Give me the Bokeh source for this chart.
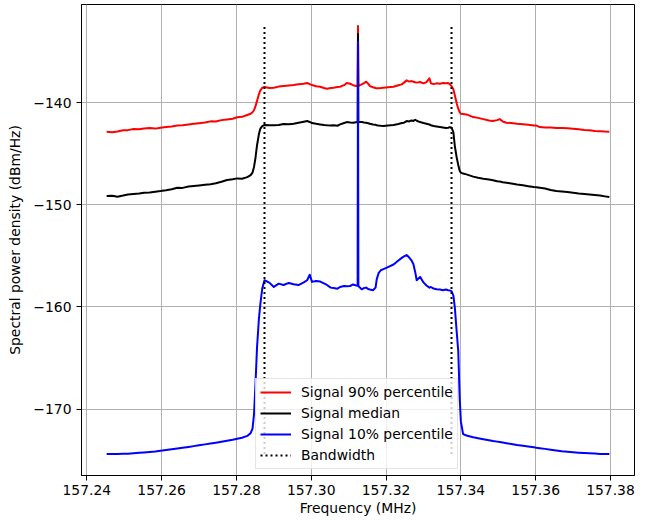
from bokeh.plotting import figure
from bokeh.models import Range1d, FixedTicker
from bokeh.embed import file_html
from bokeh.resources import INLINE

# Frequency bins (MHz)
freq = [
    157.2453, 157.2468, 157.2482, 157.2497, 157.2510, 157.2525, 157.2540, 157.2553, 157.2568, 157.2583,
    157.2597, 157.2612, 157.2627, 157.2642, 157.2656, 157.2672, 157.2686, 157.2700, 157.2716, 157.2731,
    157.2745, 157.2760, 157.2775, 157.2790, 157.2802, 157.2815, 157.2829, 157.2838, 157.2843, 157.2847,
    157.2851, 157.2855, 157.2860, 157.2864, 157.2869, 157.2875, 157.2888, 157.2900, 157.2913, 157.2926,
    157.2940, 157.2953, 157.2966, 157.2980, 157.2989, 157.2996, 157.3002, 157.3013, 157.3024, 157.3034,
    157.3042, 157.3052, 157.3060, 157.3070, 157.3077, 157.3088, 157.3095, 157.3104, 157.3112, 157.3120,
    157.3124, 157.3125, 157.3126, 157.3130, 157.3135, 157.3141, 157.3147, 157.3152, 157.3157, 157.3165,
    157.3172, 157.3175, 157.3180, 157.3186, 157.3193, 157.3205, 157.3220, 157.3233, 157.3242, 157.3248,
    157.3255, 157.3262, 157.3268, 157.3273, 157.3278, 157.3282, 157.3291, 157.3300, 157.3308, 157.3316,
    157.3320, 157.3327, 157.3335, 157.3344, 157.3352, 157.3360, 157.3366, 157.3371, 157.3375, 157.3380,
    157.3384, 157.3389, 157.3393, 157.3397, 157.3400, 157.3406, 157.3415, 157.3425, 157.3433, 157.3446,
    157.3460, 157.3475, 157.3486, 157.3497, 157.3504, 157.3512, 157.3522, 157.3535, 157.3550, 157.3566,
    157.3580, 157.3595, 157.3602, 157.3611, 157.3625, 157.3640, 157.3655, 157.3670, 157.3685, 157.3700,
    157.3715, 157.3730, 157.3744, 157.3758, 157.3772, 157.3785, 157.3797,
]

# Signal 90% percentile (dBm/Hz)
signal_p90 = [
    -142.86, -142.90, -142.84, -142.72, -142.70, -142.58, -142.62, -142.53, -142.50, -142.55,
    -142.46, -142.40, -142.34, -142.25, -142.22, -142.14, -142.07, -142.02, -141.96, -141.84,
    -141.86, -141.72, -141.65, -141.58, -141.44, -141.40, -141.22, -141.10, -140.95, -140.75,
    -140.35, -139.85, -139.20, -138.80, -138.55, -138.48, -138.58, -138.55, -138.44, -138.39,
    -138.33, -138.29, -138.22, -138.16, -138.09, -138.20, -138.29, -138.40, -138.45, -138.58,
    -138.65, -138.58, -138.55, -138.48, -138.45, -138.30, -138.09, -138.16, -138.30, -138.38,
    -138.40, -132.50, -138.40, -138.30, -138.22, -138.10, -137.96, -138.15, -138.39, -138.50,
    -138.58, -138.61, -138.60, -138.58, -138.55, -138.50, -138.45, -138.30, -138.22, -138.05,
    -137.83, -137.95, -137.90, -137.96, -138.02, -138.05, -137.99, -138.12, -138.00, -137.63,
    -138.12, -138.20, -138.12, -138.15, -138.09, -138.12, -138.09, -138.22, -138.40, -138.70,
    -139.30, -140.10, -140.60, -140.95, -141.10, -141.12, -141.16, -141.30, -141.42, -141.50,
    -141.62, -141.75, -141.81, -141.72, -141.62, -141.85, -141.97, -142.00, -142.08, -142.13,
    -142.18, -142.25, -142.25, -142.40, -142.45, -142.44, -142.48, -142.50, -142.52, -142.56,
    -142.62, -142.68, -142.72, -142.78, -142.80, -142.84, -142.86,
]

# Signal median (dBm/Hz)
signal_median = [
    -149.15, -149.12, -149.21, -149.10, -148.99, -148.95, -148.90, -148.82, -148.80, -148.72,
    -148.66, -148.58, -148.48, -148.33, -148.35, -148.22, -148.17, -148.12, -148.05, -148.00,
    -147.90, -147.75, -147.58, -147.50, -147.42, -147.45, -147.30, -147.10, -146.85, -146.30,
    -145.40, -144.20, -143.11, -142.55, -142.30, -142.20, -142.23, -142.22, -142.20, -142.10,
    -142.12, -142.07, -141.98, -141.88, -141.81, -141.90, -142.01, -142.08, -142.14, -142.20,
    -142.23, -142.25, -142.22, -142.27, -142.14, -142.00, -141.91, -141.95, -141.97, -141.93,
    -141.92, -133.30, -141.92, -141.90, -141.91, -141.95, -141.97, -142.02, -142.08, -142.14,
    -142.18, -142.22, -142.25, -142.28, -142.30, -142.25, -142.20, -142.10, -142.00, -141.97,
    -141.81, -141.85, -141.75, -141.80, -141.68, -141.78, -141.91, -142.00, -142.07, -142.15,
    -142.22, -142.30, -142.35, -142.40, -142.45, -142.50, -142.46, -142.40, -142.46, -142.90,
    -144.30, -145.40, -146.10, -146.70, -146.85, -146.95, -147.03, -147.15, -147.25, -147.36,
    -147.45, -147.52, -147.60, -147.70, -147.72, -147.80, -147.85, -147.92, -148.02, -148.10,
    -148.18, -148.26, -148.28, -148.33, -148.42, -148.55, -148.66, -148.70, -148.76, -148.82,
    -148.90, -148.95, -148.99, -149.05, -149.10, -149.18, -149.25,
]

# Signal 10% percentile (dBm/Hz)
signal_p10 = [
    -174.40, -174.39, -174.38, -174.37, -174.36, -174.32, -174.28, -174.24, -174.20, -174.15,
    -174.08, -174.01, -173.93, -173.85, -173.78, -173.70, -173.62, -173.54, -173.45, -173.36,
    -173.28, -173.19, -173.10, -173.00, -172.90, -172.80, -172.62, -172.35, -171.90, -170.50,
    -167.50, -164.00, -161.20, -159.70, -158.20, -157.39, -157.62, -158.04, -157.72, -157.85,
    -157.65, -157.78, -157.86, -157.60, -157.39, -156.85, -157.55, -157.46, -157.52, -157.70,
    -157.85, -158.11, -158.15, -158.21, -158.05, -157.95, -157.98, -157.95, -157.80, -157.90,
    -157.92, -134.05, -157.95, -158.10, -158.27, -158.15, -158.11, -158.25, -158.30, -158.37,
    -158.11, -157.30, -156.70, -156.41, -156.30, -156.10, -155.85, -155.45, -155.20, -155.05,
    -154.92, -155.17, -155.45, -155.80, -156.60, -157.39, -157.06, -157.60, -157.90, -158.11,
    -158.05, -158.20, -158.27, -158.30, -158.37, -158.30, -158.37, -158.40, -158.45, -158.90,
    -160.10, -162.50, -164.30, -169.00, -171.20, -172.45, -172.58, -172.68, -172.76, -172.85,
    -172.95, -173.05, -173.12, -173.18, -173.22, -173.27, -173.33, -173.41, -173.50, -173.58,
    -173.66, -173.74, -173.78, -173.82, -173.89, -173.97, -174.04, -174.12, -174.17, -174.22,
    -174.26, -174.29, -174.32, -174.35, -174.38, -174.39, -174.40,
]

# Bandwidth edges (MHz)
bandwidth_edges = [157.2875, 157.3375]

series_labels = ["Signal 90% percentile", "Signal median", "Signal 10% percentile", "Bandwidth"]
series_colors = ["#ff0000", "#000000", "#0000ff", "#000000"]

x_ticks = [157.24, 157.26, 157.28, 157.30, 157.32, 157.34, 157.36, 157.38]
x_tick_labels = ["157.24", "157.26", "157.28", "157.30", "157.32", "157.34", "157.36", "157.38"]
y_ticks = [-170, -160, -150, -140]
y_tick_labels = ["\u2212170", "\u2212160", "\u2212150", "\u2212140"]

x_label = "Frequency (MHz)"
y_label = "Spectral power density (dBm/Hz)"

all_vals = signal_p90 + signal_median + signal_p10
ymin, ymax = min(all_vals), max(all_vals)
xmin, xmax = min(freq), max(freq)
xpad = (xmax - xmin) * 0.05
ypad = (ymax - ymin) * 0.05

FONT = "DejaVu Sans"
FS = "13.9px"

p = figure(width=649, height=521, output_backend="svg", toolbar_location=None,
           x_range=Range1d(xmin - xpad, xmax + xpad),
           y_range=Range1d(ymin - ypad, ymax + ypad),
           min_border_left=81, min_border_right=15, min_border_top=4, min_border_bottom=46)

p.background_fill_color = "white"
p.border_fill_color = "white"
p.outline_line_color = "black"
p.outline_line_width = 1

for vals, lab, col in zip([signal_p90, signal_median, signal_p10], series_labels[:3], series_colors[:3]):
    p.line(freq, vals, line_color=col, line_width=2, line_join="round", legend_label=lab)

p.segment(x0=bandwidth_edges, x1=bandwidth_edges,
          y0=[ymin] * len(bandwidth_edges), y1=[ymax] * len(bandwidth_edges),
          line_color=series_colors[3], line_width=2, line_dash="2 3",
          legend_label=series_labels[3])

xt = FixedTicker(ticks=x_ticks)
yt = FixedTicker(ticks=y_ticks)
p.xaxis.ticker = xt
p.yaxis.ticker = yt
p.xgrid.ticker = xt
p.ygrid.ticker = yt
p.xaxis.major_label_overrides = dict(zip(x_ticks, x_tick_labels))
p.yaxis.major_label_overrides = dict(zip(y_ticks, y_tick_labels))

for ax in (p.xaxis, p.yaxis):
    ax.axis_line_color = "black"
    ax.axis_line_width = 1
    ax.major_tick_line_color = "black"
    ax.major_tick_line_width = 1
    ax.major_tick_out = 5
    ax.major_tick_in = 0
    ax.minor_tick_line_color = None
    ax.major_label_text_font = FONT
    ax.major_label_text_font_size = FS
    ax.major_label_text_color = "black"
    ax.axis_label_text_font = FONT
    ax.axis_label_text_font_size = FS
    ax.axis_label_text_font_style = "normal"
    ax.axis_label_text_color = "black"

p.xaxis.axis_label = x_label
p.yaxis.axis_label = y_label
p.xaxis.major_label_standoff = 4
p.yaxis.major_label_standoff = 5
p.xaxis.axis_label_standoff = 2
p.yaxis.axis_label_standoff = 7

p.grid.grid_line_color = "#b0b0b0"
p.grid.grid_line_width = 1

lg = p.legend[0]
lg.location = (174, 6)
lg.background_fill_color = "white"
lg.background_fill_alpha = 0.8
lg.border_line_color = "#cccccc"
lg.border_line_width = 1
lg.label_text_font = FONT
lg.label_text_font_size = FS
lg.label_text_color = "black"
lg.glyph_width = 31
lg.glyph_height = 18
lg.label_height = 18
lg.label_standoff = 10
lg.padding = 4
lg.spacing = 3
lg.margin = 0

open("out.html", "w").write(file_html(p, INLINE))
